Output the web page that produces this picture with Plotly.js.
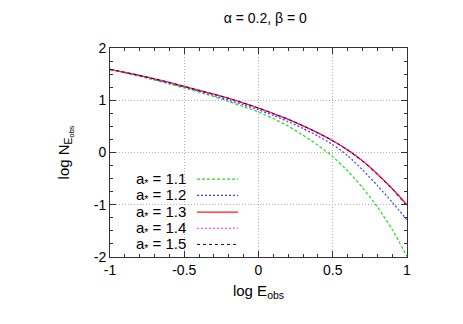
<!DOCTYPE html>
<html>
<head>
<meta charset="utf-8">
<script src="https://cdn.plot.ly/plotly-3.0.1.min.js"></script>
<style>html,body{margin:0;padding:0;background:#fff;}#chart{width:463px;height:324px;}</style>
</head>
<body>
<div id="chart"></div>
<script>
// Data
var logE = [-1, -0.9, -0.8, -0.7, -0.6, -0.5, -0.4, -0.3, -0.2, -0.1, 0, 0.1, 0.2, 0.3, 0.4, 0.5, 0.6, 0.7, 0.8, 0.9, 1];
var n11 = [1.59, 1.525, 1.455, 1.385, 1.31, 1.235, 1.155, 1.07, 0.975, 0.875, 0.775, 0.65, 0.505, 0.33, 0.14, -0.08, -0.35, -0.67, -1.04, -1.47, -1.99];
var n12 = [1.59, 1.53, 1.465, 1.395, 1.325, 1.25, 1.17, 1.09, 1.00, 0.91, 0.815, 0.71, 0.59, 0.46, 0.315, 0.15, -0.06, -0.33, -0.63, -0.95, -1.29];
var n13 = [1.59, 1.535, 1.475, 1.41, 1.34, 1.265, 1.19, 1.115, 1.035, 0.945, 0.85, 0.745, 0.635, 0.51, 0.375, 0.225, 0.05, -0.16, -0.41, -0.69, -1.00];
var n14 = [1.59, 1.535, 1.475, 1.41, 1.34, 1.265, 1.19, 1.115, 1.035, 0.945, 0.85, 0.745, 0.635, 0.51, 0.375, 0.227, 0.055, -0.155, -0.405, -0.685, -0.99];
var n15 = [1.59, 1.535, 1.475, 1.41, 1.34, 1.265, 1.19, 1.115, 1.035, 0.945, 0.85, 0.745, 0.635, 0.51, 0.375, 0.223, 0.045, -0.165, -0.42, -0.70, -1.03];
var seriesNames = ['a<sub>*</sub> = 1.1', 'a<sub>*</sub> = 1.2', 'a<sub>*</sub> = 1.3', 'a<sub>*</sub> = 1.4', 'a<sub>*</sub> = 1.5'];
var xTicks = [-1, -0.5, 0, 0.5, 1];
var xTickText = ['-1', '-0.5', '0', '0.5', '1'];
var yTicks = [-2, -1, 0, 1, 2];
var yTickText = ['-2', '-1', '0', '1', '2'];

var allY = [n11, n12, n13, n14, n15];
var colors = ['#22dd22', '#3a3aff', '#ff1a1a', '#ff22ff', '#111111'];
var dashes = ['3px,2px', '2px,2px', 'solid', '2px,2px', '3px,3px'];
var widths = [1.2, 1.2, 1.3, 1.2, 1.0];

var traces = allY.map(function (ys, i) {
  return {
    x: logE, y: ys, type: 'scatter', mode: 'lines', name: seriesNames[i],
    line: {color: colors[i], dash: dashes[i], width: widths[i], shape: 'spline', smoothing: 0.7},
    showlegend: false, hoverinfo: 'skip'
  };
});

// Custom legend (text left, sample right) like the reference
var legY = [-0.51, -0.82, -1.14, -1.45, -1.76];
var annotations = [];
var shapes = [];
seriesNames.forEach(function (nm, i) {
  annotations.push({
    x: -0.472, y: legY[i], xref: 'x', yref: 'y', text: nm, showarrow: false,
    xanchor: 'right', yanchor: 'middle',
    font: {family: 'Liberation Sans, Arial, sans-serif', size: 15, color: '#000'}
  });
  shapes.push({
    type: 'line', xref: 'x', yref: 'y', x0: -0.414, x1: -0.138, y0: legY[i], y1: legY[i],
    line: {color: colors[i], dash: dashes[i], width: widths[i]}
  });
});

var axFont = {family: 'Liberation Sans, Arial, sans-serif', size: 14, color: '#000'};
var layout = {
  width: 463, height: 324,
  margin: {l: 110, r: 56, t: 48, b: 67},
  paper_bgcolor: '#fff', plot_bgcolor: '#fff',
  showlegend: false,
  title: {
    text: '\u03b1 = 0.2, \u03b2 = 0',
    x: 0.573, xanchor: 'center', y: 0.945, yanchor: 'middle', yref: 'container',
    font: {family: 'Liberation Sans, Arial, sans-serif', size: 14, color: '#000'}
  },
  xaxis: {
    range: [-1, 1], tickvals: xTicks, ticktext: xTickText,
    ticks: 'inside', ticklen: 6, tickcolor: '#333', tickwidth: 1,
    minor: {dtick: 0.1, ticks: 'inside', ticklen: 3, tickcolor: '#333', showgrid: false},
    showline: true, linecolor: '#333', linewidth: 1, mirror: 'ticks',
    showgrid: true, gridcolor: '#b0b0b0', griddash: '1px,2px', gridwidth: 1,
    zeroline: false, tickfont: axFont,
    title: {text: 'log E<sub>obs</sub>', font: {family: 'Liberation Sans, Arial, sans-serif', size: 15, color: '#000'}, standoff: 8}
  },
  yaxis: {
    range: [-2, 2], tickvals: yTicks, ticktext: yTickText,
    ticks: 'inside', ticklen: 6, tickcolor: '#333', tickwidth: 1,
    minor: {dtick: 0.25, ticks: 'inside', ticklen: 3, tickcolor: '#333', showgrid: false},
    showline: true, linecolor: '#333', linewidth: 1, mirror: 'ticks',
    showgrid: true, gridcolor: '#b0b0b0', griddash: '1px,2px', gridwidth: 1,
    zeroline: false, tickfont: axFont,
    title: {text: 'log N<sub>E<sub>obs</sub></sub>', font: {family: 'Liberation Sans, Arial, sans-serif', size: 15, color: '#000'}, standoff: 20}
  },
  annotations: annotations,
  shapes: shapes
};

Plotly.newPlot('chart', traces, layout, {staticPlot: true, displayModeBar: false});
</script>
</body>
</html>
